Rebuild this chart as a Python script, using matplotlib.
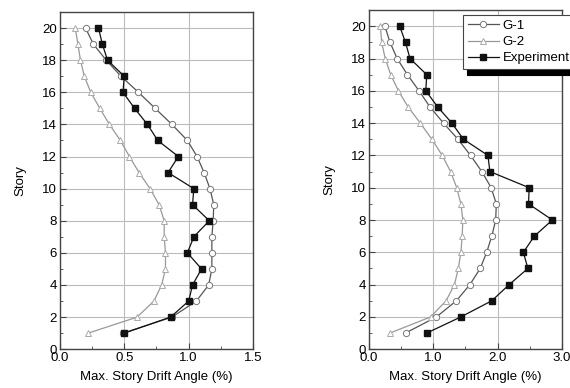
import numpy as np
import matplotlib.pyplot as plt
from matplotlib.ticker import MultipleLocator

plt.rcParams['font.family'] = ['Liberation Sans', 'DejaVu Sans']

stories = list(range(1, 21))

# left panel (%)
g1_left = [0.49, 0.87, 1.06, 1.155, 1.18, 1.18, 1.18, 1.19, 1.195, 1.165,
           1.12, 1.065, 0.99, 0.87, 0.74, 0.61, 0.475, 0.36, 0.26, 0.20]
g2_left = [0.22, 0.60, 0.73, 0.79, 0.82, 0.82, 0.81, 0.81, 0.77, 0.70,
           0.615, 0.54, 0.47, 0.385, 0.31, 0.24, 0.19, 0.16, 0.14, 0.12]
exp_left = [0.50, 0.86, 1.00, 1.03, 1.10, 0.99, 1.04, 1.16, 1.03, 1.04,
            0.84, 0.92, 0.76, 0.68, 0.58, 0.49, 0.50, 0.37, 0.33, 0.30]

# right panel (%)
g1_right = [0.57, 1.05, 1.36, 1.57, 1.73, 1.83, 1.91, 1.97, 1.98, 1.90,
            1.755, 1.58, 1.385, 1.16, 0.95, 0.78, 0.60, 0.44, 0.33, 0.25]
g2_right = [0.33, 0.96, 1.20, 1.33, 1.39, 1.43, 1.45, 1.46, 1.43, 1.365,
            1.27, 1.14, 0.98, 0.80, 0.61, 0.46, 0.34, 0.255, 0.20, 0.18]
exp_right = [0.90, 1.43, 1.91, 2.18, 2.47, 2.40, 2.57, 2.85, 2.48, 2.49,
             1.88, 1.85, 1.47, 1.29, 1.07, 0.885, 0.90, 0.64, 0.57, 0.48]

labels = ['G-1', 'G-2', 'Experiment']

fig = plt.figure(figsize=(5.7, 3.88), dpi=100)
ax1 = fig.add_axes([0.105, 0.100, 0.339, 0.869])
ax2 = fig.add_axes([0.647, 0.100, 0.339, 0.874])


def draw(ax, g1, g2, ex, xmax, major, minor, fmt):
    ax.plot(g1, stories, color='#555555', lw=0.9, marker='o', ms=4.5,
            mfc='white', mec='#777777', mew=0.7, label=labels[0])
    ax.plot(g2, stories, color='#999999', lw=0.9, marker='^', ms=5,
            mfc='white', mec='#aaaaaa', mew=0.7, label=labels[1])
    ax.plot(ex, stories, color='#111111', lw=0.9, marker='s', ms=4,
            mfc='#111111', mec='#111111', label=labels[2])
    ax.set_xlim(0, xmax)
    ax.set_ylim(0, 21)
    ax.xaxis.set_major_locator(MultipleLocator(major))
    ax.xaxis.set_minor_locator(MultipleLocator(minor))
    ax.yaxis.set_major_locator(MultipleLocator(2))
    ax.yaxis.set_minor_locator(MultipleLocator(1))
    ax.set_xticks(np.arange(0, xmax + 0.01, major))
    ax.set_xticklabels([fmt % v for v in np.arange(0, xmax + 0.01, major)])
    ax.tick_params(which='both', direction='in', labelsize=9.5, color='#444444')
    ax.tick_params(which='major', length=4, pad=2)
    ax.tick_params(which='minor', length=2.5)
    ax.grid(True, which='major', color='#bbbbbb', lw=0.8)
    ax.set_axisbelow(True)
    for s in ax.spines.values():
        s.set_color('#444444')
        s.set_linewidth(1.0)
    ax.set_xlabel('Max. Story Drift Angle (%)', fontsize=9.5, labelpad=5)
    ax.set_ylabel('Story', fontsize=9.5, labelpad=11)


draw(ax1, g1_left, g2_left, exp_left, 1.5, 0.5, 0.25, '%.1f')
draw(ax2, g1_right, g2_right, exp_right, 3.0, 1.0, 0.5, '%.1f')

leg = ax2.legend(loc='upper left', bbox_to_anchor=(0.487, 0.985), fontsize=9.5,
                 frameon=True, fancybox=False, edgecolor='#444444',
                 handlelength=2.4, handletextpad=0.25, borderpad=0.35,
                 labelspacing=0.3, borderaxespad=0,
                 shadow={'color': 'black', 'alpha': 1.0, 'ox': 3, 'oy': -4})
leg.get_frame().set_linewidth(0.8)

fig.savefig('out.png', dpi=100)
